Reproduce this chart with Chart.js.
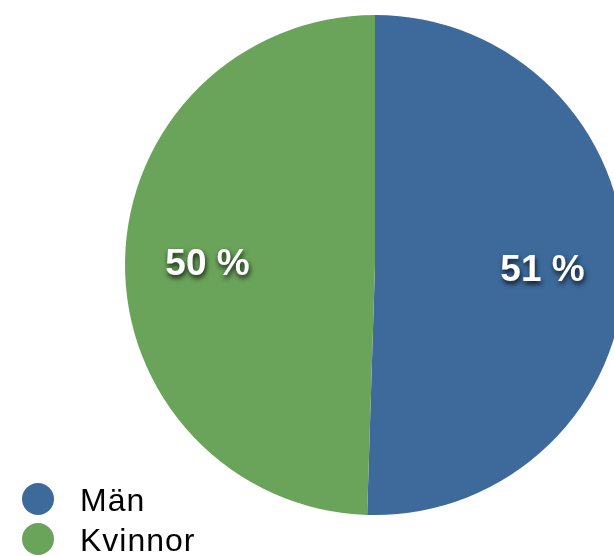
<!DOCTYPE html>
<html>
<head>
<meta charset="utf-8">
<script src="https://cdn.jsdelivr.net/npm/chart.js@4"></script>
<style>
html,body{margin:0;padding:0;background:#fff;overflow:hidden;width:614px;height:556px;}
#wrap{position:absolute;left:0;top:0;width:640px;height:556px;}
</style>
</head>
<body>
<div id="wrap"><canvas id="c" width="640" height="556"></canvas></div>
<script>
const categories = ['Män', 'Kvinnor'];
const values = [50.5, 49.5];
const colors = ['#3d6a9b', '#6aa35a'];

const labelPlugin = {
  id: 'sliceLabels',
  afterDraw(chart) {
    const ctx = chart.ctx;
    const meta = chart.getDatasetMeta(0);
    ctx.save();
    ctx.font = 'bold 37px "Liberation Sans", Arial, sans-serif';
    ctx.textAlign = 'center';
    ctx.textBaseline = 'alphabetic';
    ctx.fillStyle = '#ffffff';
    ctx.shadowColor = 'rgba(0,0,0,0.8)';
    ctx.shadowOffsetX = 1;
    ctx.shadowOffsetY = 3;
    ctx.shadowBlur = 5;
    meta.data.forEach((arc, i) => {
      const p = arc.getProps(['x','y','startAngle','endAngle','outerRadius'], true);
      const mid = (p.startAngle + p.endAngle) / 2;
      const r = p.outerRadius * 0.67;
      const x = p.x + Math.cos(mid) * r;
      const y = p.y + Math.sin(mid) * r;
      ctx.fillText(Math.round(values[i]) + ' %', x, y + 13);
    });
    ctx.restore();

    // legend
    ctx.save();
    ctx.font = '32px "Liberation Sans", Arial, sans-serif';
    if ('letterSpacing' in ctx) ctx.letterSpacing = '1px';
    ctx.textAlign = 'left';
    ctx.textBaseline = 'alphabetic';
    categories.forEach((name, i) => {
      const cy = 499 + i * 40;
      ctx.beginPath();
      ctx.arc(38, cy, 16, 0, Math.PI * 2);
      ctx.fillStyle = colors[i];
      ctx.fill();
      ctx.fillStyle = '#000000';
      ctx.fillText(name, 80, cy + 12);
    });
    ctx.restore();
  }
};

new Chart(document.getElementById('c'), {
  type: 'pie',
  data: {
    labels: categories,
    datasets: [{
      data: values,
      backgroundColor: colors,
      borderWidth: 0,
      hoverOffset: 0
    }]
  },
  options: {
    responsive: false,
    animation: false,
    layout: { padding: { left: 125, top: 15, right: 15, bottom: 41 } },
    plugins: {
      legend: { display: false },
      tooltip: { enabled: false }
    }
  },
  plugins: [labelPlugin]
});
</script>
</body>
</html>
